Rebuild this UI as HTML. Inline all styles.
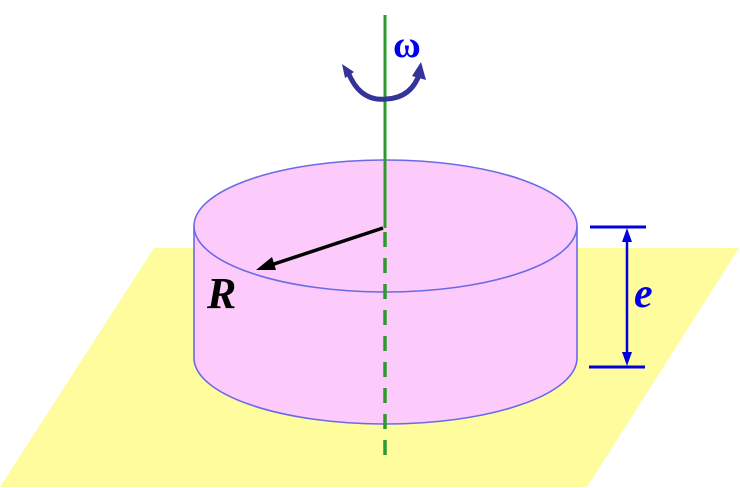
<!DOCTYPE html>
<html><head><style>body{margin:0;background:#fff}svg{display:block}.s{font-family:"Liberation Serif","DejaVu Serif",serif}</style></head><body>
<svg width="740" height="488" viewBox="0 0 740 488" xmlns="http://www.w3.org/2000/svg">
<polygon points="154,248 739,248 587,487 0,487" fill="#fefc9c"/>
<path d="M194,226 L194,358 A191.5,66 0 0 0 577,358 L577,226 Z" fill="#fccbfc" stroke="#6a6ae8" stroke-width="1.6"/>
<ellipse cx="385.5" cy="226" rx="191.5" ry="66" fill="#fccbfc" stroke="#6a6ae8" stroke-width="1.6"/>
<line x1="385" y1="15" x2="385" y2="228" stroke="#2e9a2e" stroke-width="3"/>
<line x1="385" y1="232" x2="385" y2="458" stroke="#2e9a2e" stroke-width="3.5" stroke-dasharray="15,11"/>
<line x1="383" y1="228" x2="268" y2="266" stroke="#000" stroke-width="3.5"/>
<polygon points="256,270 272,257 276,270" fill="#000"/>
<text class="s" x="207" y="308" font-style="italic" font-weight="bold" font-size="44" fill="#000">R</text>
<path d="M348,72 Q360,102 386,99 Q412,98 420,72" fill="none" stroke="#333399" stroke-width="5"/>
<polygon points="342,64 354,72 345,78" fill="#333399"/>
<polygon points="421,62 426,80 412,76" fill="#333399"/>
<text class="s" x="393" y="57" font-size="38" font-weight="bold" fill="#0000ee">ω</text>
<line x1="590" y1="227" x2="646" y2="227" stroke="#0000dd" stroke-width="3"/>
<line x1="589" y1="367" x2="645" y2="367" stroke="#0000dd" stroke-width="3"/>
<line x1="627" y1="232" x2="627" y2="362" stroke="#0000dd" stroke-width="2.5"/>
<polygon points="627,228 622,242 632,242" fill="#0000dd"/>
<polygon points="627,366 622,352 632,352" fill="#0000dd"/>
<text class="s" x="634" y="307" font-style="italic" font-weight="bold" font-size="42" fill="#0000ee">e</text>
</svg>
</body></html>
